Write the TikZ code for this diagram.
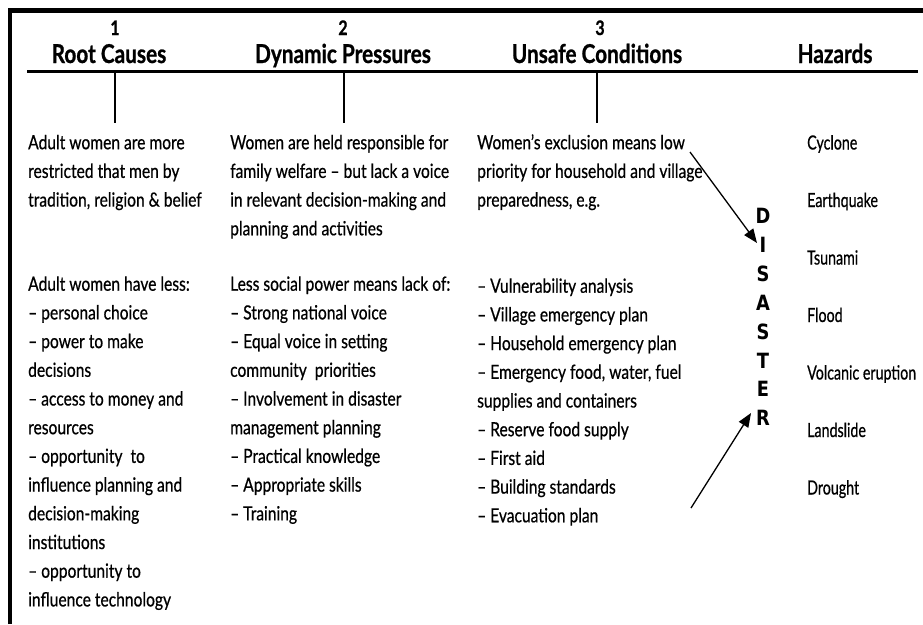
\documentclass[tikz,border=0pt]{standalone}
\usepackage{fontspec}
\setmainfont{Lato}[FakeStretch=0.8, UprightFeatures={FakeBold=0.6}, BoldFeatures={FakeBold=0.8}]
\newfontfamily\hazfont{Lato}[FakeStretch=0.73, FakeBold=0.6]
\newfontfamily\disfont{DejaVu Sans}[FakeStretch=0.85]
\usetikzlibrary{arrows.meta}
\begin{document}
\begin{tikzpicture}[x=1pt,y=-1pt,
  body/.style={anchor=north west, inner sep=0pt, align=left, font=\fontsize{19.5}{28.7}\selectfont},
  headtxt/.style={anchor=base, inner sep=0pt, font=\fontsize{26}{30}\selectfont\bfseries},
  numtxt/.style={anchor=base, inner sep=0pt, font=\fontsize{20}{22}\selectfont\bfseries},
  haz/.style={anchor=base west, inner sep=0pt, font=\hazfont\fontsize{19.5}{28.7}\selectfont},
  dis/.style={anchor=base, inner sep=0pt, font=\disfont\bfseries\fontsize{21}{24}\selectfont},
  outerframe/.style={line width=4.5pt},
  hrule/.style={line width=3pt},
  tickline/.style={line width=1.3pt},
  arr/.style={line width=1.3pt, -{Triangle[length=14pt,width=11pt]}}
]
\useasboundingbox (0,0) rectangle (923,624);
% frame
\coordinate (fbl) at (10,624);
\coordinate (ftl) at (10,10.5);
\coordinate (ftr) at (923,10.5);
\draw[outerframe] (fbl) -- (ftl) -- (ftr);
% header rule
\coordinate (rl) at (27,71.5);
\coordinate (rr) at (918,71.5);
\draw[hrule] (rl) -- (rr);
% headings
\node[numtxt] (n1) at (115,35) {1};
\node[numtxt] (n2) at (343,35) {2};
\node[numtxt] (n3) at (600,35) {3};
\node[headtxt] (h1) at (109,63) {Root Causes};
\node[headtxt] (h2) at (343,63) {Dynamic Pressures};
\node[headtxt] (h3) at (597,63) {Unsafe Conditions};
\node[headtxt] (h4) at (835,63) {Hazards};
% ticks
\foreach \i/\x in {1/115,2/344,3/597}{
  \coordinate (tt\i) at (\x,71.5);
  \coordinate (tb\i) at (\x,123);
  \draw[tickline] (tt\i) -- (tb\i);
}
% body text
\node[body] (c1a) at (28,129) {\rule{0pt}{20pt}Adult women are more\\restricted that men by\\tradition, religion \& belief};
\node[body] (c2a) at (230,129) {\rule{0pt}{20pt}Women are held responsible for\\family welfare – but lack a voice\\in relevant decision-making and\\planning and activities};
\node[body] (c3a) at (477,129) {\rule{0pt}{20pt}Women’s exclusion means low\\priority for household and village\\preparedness, e.g.};
\node[body] (c1b) at (28,270.5) {\rule{0pt}{20pt}Adult women have less:\\– personal choice\\– power to make\\decisions\\– access to money and\\resources\\– opportunity\ \ to\\influence planning and\\decision-making\\institutions\\– opportunity to\\influence technology};
\node[body] (c2b) at (230,270.5) {\rule{0pt}{20pt}Less social power means lack of:\\– Strong national voice\\– Equal voice in setting\\community\ \ priorities\\– Involvement in disaster\\management planning\\– Practical knowledge\\– Appropriate skills\\– Training};
\node[body] (c3b) at (477,272.5) {\rule{0pt}{20pt}– Vulnerability analysis\\– Village emergency plan\\– Household emergency plan\\– Emergency food, water, fuel\\supplies and containers\\– Reserve food supply\\– First aid\\– Building standards\\– Evacuation plan};
% hazards
\foreach \i/\t in {0/Cyclone,1/Earthquake,2/Tsunami,3/Flood,4/Volcanic eruption,5/Landslide,6/Drought}{
  \node[haz] (hz\i) at (807,149.5+57.5*\i) {\t};
}
% DISASTER
\foreach \i/\l in {0/D,1/I,2/S,3/A,4/S,5/T,6/E,7/R}{
  \node[dis] (d\i) at (763,223.5+28.9*\i) {\l};
}
% arrows
\coordinate (a1s) at (690,152);
\coordinate (a1e) at (757,243);
\coordinate (a2s) at (691,508);
\coordinate (a2e) at (751,413);
\draw[arr] (a1s) -- (a1e);
\draw[arr] (a2s) -- (a2e);
\end{tikzpicture}
\end{document}
